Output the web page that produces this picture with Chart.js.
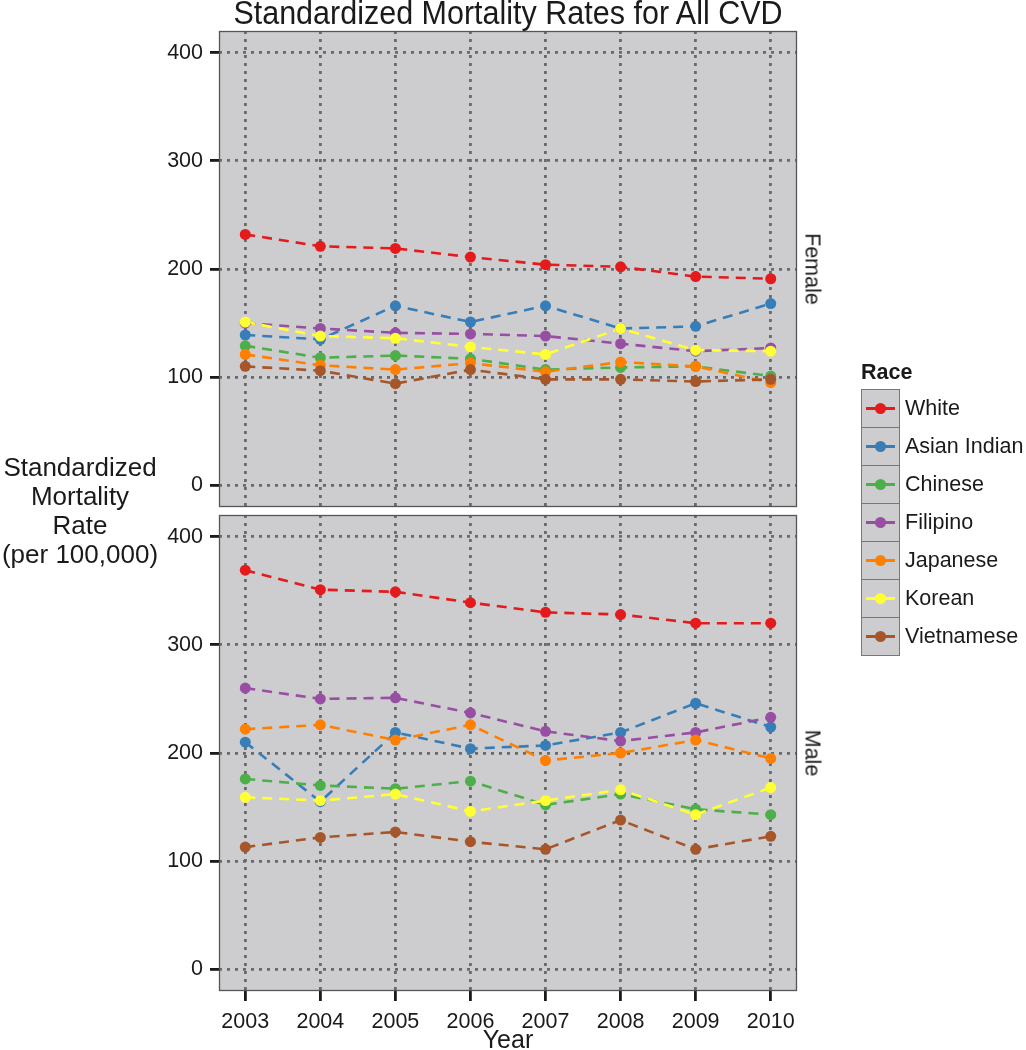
<!DOCTYPE html>
<html><head><meta charset="utf-8">
<script src="https://cdn.jsdelivr.net/npm/chart.js@4.4.1/dist/chart.umd.min.js"></script>
<style>
html,body{margin:0;padding:0;background:#fff;}
body{width:1026px;height:1050px;position:relative;overflow:hidden;font-family:"Liberation Sans",Arial,sans-serif;color:#1a1a1a;}
canvas{position:absolute;left:0;top:0;}
.abs{position:absolute;white-space:nowrap;}
#title{left:0;width:1016px;text-align:center;top:-5px;font-size:30.5px;transform:scaleY(1.06);}
#ytitle{left:0;width:160px;text-align:center;top:453px;font-size:26px;line-height:29px;}
#xtitle{left:0;width:1016px;text-align:center;top:1025px;font-size:25px;}
.strip{font-size:21.5px;transform:translate(-50%,-50%) rotate(90deg);}
#legend{left:861px;top:360px;}
#legend .lt{font-weight:bold;font-size:21.5px;margin-bottom:4px;}
.item{display:flex;align-items:center;height:38px;}
.key{width:37px;height:37px;background:#cdcdcf;border:1px solid #777;border-bottom:none;position:relative;box-sizing:content-box;}
.item:last-child .key{border-bottom:1px solid #777;}
.key .ln{position:absolute;left:4px;right:4px;top:17px;height:3px;}
.key .pt{position:absolute;left:13px;top:13px;width:11px;height:11px;border-radius:50%;}
.lab{font-size:21.5px;margin-left:5px;}
</style></head>
<body>
<canvas id="c1" width="1026" height="1050"></canvas>
<canvas id="c2" width="1026" height="1050"></canvas>
<div id="title" class="abs">Standardized Mortality Rates for All CVD</div>
<div id="ytitle" class="abs">Standardized<br>Mortality<br>Rate<br>(per 100,000)</div>
<div id="xtitle" class="abs">Year</div>
<div class="abs strip" style="left:812px;top:269px;">Female</div>
<div class="abs strip" style="left:812px;top:753px;">Male</div>
<div id="legend" class="abs"><div class="lt">Race</div></div>
<script>
const years = [2003, 2004, 2005, 2006, 2007, 2008, 2009, 2010];
const races = ["White", "Asian Indian", "Chinese", "Filipino", "Japanese", "Korean", "Vietnamese"];
const yTicks = [0, 100, 200, 300, 400];

const femaleWhite       = [232, 221, 219, 211, 204, 202, 193, 191];
const femaleAsianIndian = [139, 135, 166, 151, 166, 145, 147, 168];
const femaleChinese     = [129, 118, 120, 117, 107, 109, 110, 101];
const femaleFilipino    = [150, 145, 141, 140, 138, 131, 124, 127];
const femaleJapanese    = [121, 111, 107, 113, 105, 114, 110, 95];
const femaleKorean      = [151, 138, 136, 128, 121, 145, 125, 124];
const femaleVietnamese  = [110, 106, 94, 107, 98, 98, 96, 98];

const maleWhite       = [369, 351, 349, 339, 330, 328, 320, 320];
const maleAsianIndian = [210, 155, 219, 204, 207, 219, 246, 224];
const maleChinese     = [176, 170, 167, 174, 152, 162, 148, 143];
const maleFilipino    = [260, 250, 251, 237, 220, 211, 219, 233];
const maleJapanese    = [222, 226, 212, 226, 193, 200, 212, 195];
const maleKorean      = [159, 156, 162, 146, 156, 166, 143, 168];
const maleVietnamese  = [113, 122, 127, 118, 111, 138, 111, 123];

const femaleSeries = [femaleWhite, femaleAsianIndian, femaleChinese, femaleFilipino, femaleJapanese, femaleKorean, femaleVietnamese];
const maleSeries = [maleWhite, maleAsianIndian, maleChinese, maleFilipino, maleJapanese, maleKorean, maleVietnamese];

const colors = ["#E41A1C", "#377EB8", "#4DAF4A", "#984EA3", "#FF7F00", "#FFFF33", "#A65628"];
const FONT = "'Liberation Sans', Arial, sans-serif";
const TXT = "#1a1a1a";

const panelPlugin = {
  id: 'panel',
  beforeDraw(chart) {
    const {ctx, chartArea: a} = chart;
    ctx.save();
    ctx.fillStyle = '#cdcdcf';
    ctx.fillRect(a.left, a.top, a.right - a.left, a.bottom - a.top);
    ctx.restore();
  },
  afterDraw(chart) {
    const {ctx, chartArea: a} = chart;
    ctx.save();
    ctx.strokeStyle = '#555';
    ctx.lineWidth = 1.3;
    ctx.strokeRect(a.left + 0.5, a.top + 0.5, a.right - a.left - 1, a.bottom - a.top - 1);
    ctx.restore();
  }
};

function buildDatasets(series) {
  const ds = [];
  series.forEach((vals, i) => {
    const pts = vals.map((v, k) => ({x: years[k], y: v}));
    ds.push({
      label: races[i] + ' line', data: pts, borderColor: colors[i], backgroundColor: colors[i],
      borderWidth: 2.6, borderDash: [10, 7], pointRadius: 0, showLine: true, tension: 0,
      order: 20 + (6 - i), clip: false
    });
    ds.push({
      label: races[i], data: pts, borderColor: colors[i], backgroundColor: colors[i],
      pointBackgroundColor: colors[i], pointBorderWidth: 0, pointRadius: 5.5, showLine: false,
      order: 6 - i, clip: false
    });
  });
  return ds;
}

function makeChart(id, series, isBottom) {
  return new Chart(document.getElementById(id), {
    type: 'scatter',
    data: {datasets: buildDatasets(series)},
    options: {
      responsive: false, animation: false, events: [],
      layout: {padding: {left: 0, right: 229, top: isBottom ? 515 : 31, bottom: isBottom ? 0 : 543}},
      plugins: {legend: {display: false}, tooltip: {enabled: false}, title: {display: false}},
      scales: {
        x: {
          type: 'linear', min: 2002.65, max: 2010.35,
          afterBuildTicks: (ax) => { ax.ticks = years.map(v => ({value: v})); },
          afterFit: (ax) => { ax.height = isBottom ? 59 : 0; },
          grid: {color: '#6a6a6a', lineWidth: 2.8, drawTicks: isBottom, tickLength: 10,
                 tickColor: TXT, tickWidth: 2.8, tickBorderDash: [], tickBorderDashOffset: 0},
          border: {display: false, dash: [3, 5]},
          ticks: {display: isBottom, color: TXT, font: {family: FONT, size: 21.5}, padding: 8,
                  maxRotation: 0, autoSkip: false, callback: (v) => String(v)}
        },
        y: {
          type: 'linear', min: -20, max: 420,
          afterBuildTicks: (ax) => { ax.ticks = yTicks.map(v => ({value: v})); },
          afterFit: (ax) => { ax.width = 219; },
          grid: {color: '#6a6a6a', lineWidth: 2.8, drawTicks: true, tickLength: 9,
                 tickColor: TXT, tickWidth: 2.8, tickBorderDash: [], tickBorderDashOffset: 0},
          border: {display: false, dash: [3, 5]},
          ticks: {color: TXT, font: {family: FONT, size: 21.5}, padding: 7, callback: (v) => String(v)}
        }
      }
    },
    plugins: [panelPlugin]
  });
}

makeChart('c1', femaleSeries, false);
makeChart('c2', maleSeries, true);

const leg = document.getElementById('legend');
races.forEach((r, i) => {
  const it = document.createElement('div');
  it.className = 'item';
  it.innerHTML = '<div class="key"><div class="ln" style="background:' + colors[i] + '"></div><div class="pt" style="background:' + colors[i] + '"></div></div><div class="lab"></div>';
  it.querySelector('.lab').textContent = r;
  leg.appendChild(it);
});
</script>
</body></html>
